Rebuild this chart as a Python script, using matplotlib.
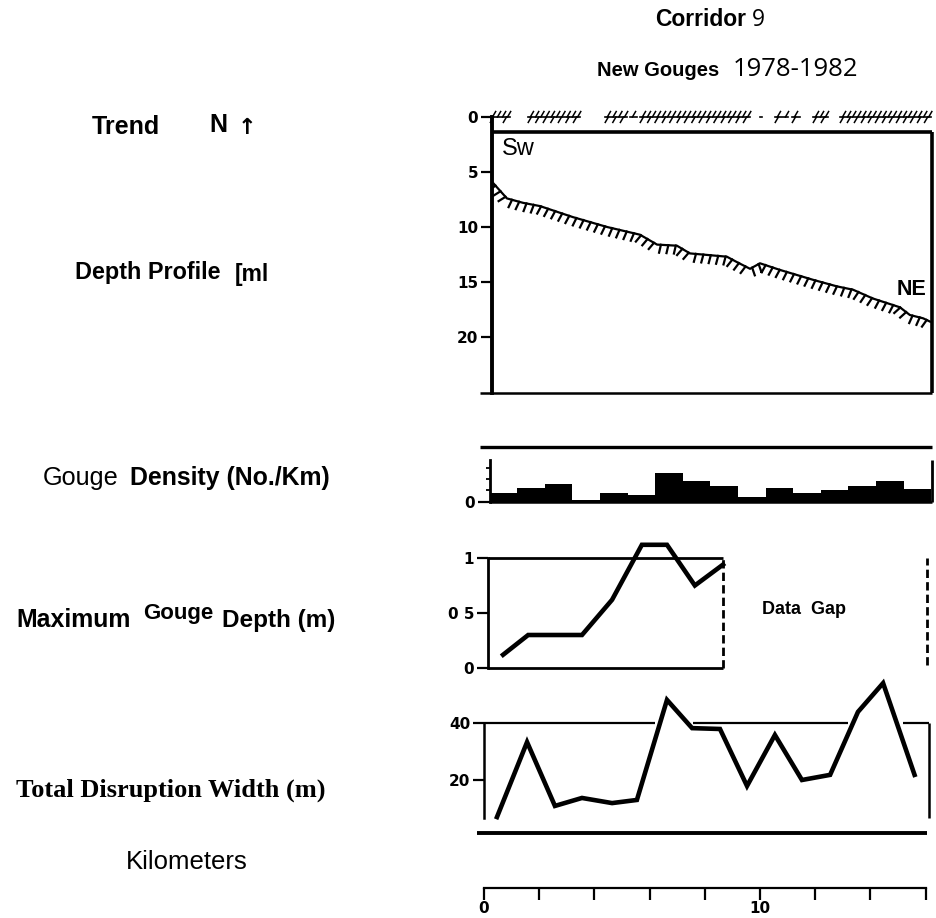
import matplotlib
matplotlib.use('Agg')
from matplotlib import pyplot as plt
from matplotlib import patheffects
from matplotlib.patches import Rectangle

W, H = 936, 918

# Depth profile along the corridor (km, m)
profile_km = [0.33, 0.83, 1.41, 2.03, 3.22, 4.46, 5.65, 6.27, 6.99, 7.46, 8.80, 9.17,
              9.64, 10.0, 10.72, 11.92, 12.79, 13.37, 14.09, 15.07, 15.43, 15.91, 16.16]
profile_m = [6.0, 7.4, 7.8, 8.1, 9.1, 10.0, 10.7, 11.6, 11.7, 12.4, 12.7, 13.2,
             13.8, 13.3, 13.9, 14.8, 15.4, 15.7, 16.5, 17.3, 18.0, 18.3, 18.6]

# stretches of the track where new gouges were mapped (start km, end km)
gouge_tracks = [(0.22, 0.94), (1.59, 3.48), (4.38, 5.18), (5.29, 5.54), (5.65, 9.64),
                (10.0, 10.08), (10.54, 11.01), (11.16, 11.45), (11.92, 12.46), (12.9, 16.2)]

# gouge density per 1 km bin
density_edges = [0.2, 1.2, 2.2, 3.2, 4.2, 5.2, 6.2, 7.2, 8.2, 9.2, 10.2, 11.2, 12.2,
                 13.2, 14.2, 15.2, 16.2]
density = [0.74, 1.2, 1.6, 0.15, 0.74, 0.6, 2.5, 1.8, 1.4, 0.45, 1.25, 0.8, 1.0,
           1.4, 1.85, 1.1]

# maximum gouge depth (m)
maxdepth_km = [0.69, 1.6, 3.55, 4.64, 5.72, 6.63, 7.64, 8.66]
maxdepth_m = [0.12, 0.30, 0.30, 0.62, 1.12, 1.12, 0.75, 0.94]

# total disruption width (m)
width_km = [0.47, 1.56, 2.57, 3.55, 4.64, 5.54, 6.63, 7.54, 8.55, 9.53, 10.54,
            11.52, 12.54, 13.55, 14.46, 15.6]
width_m = [7.0, 33.3, 10.9, 13.7, 11.9, 13.0, 48.1, 38.2, 37.9, 17.9, 35.8,
           20.0, 21.8, 43.9, 54.0, 21.8]

km_ticks = [0, 2, 4, 6, 8, 10, 12, 14, 16]
km_labels = ['0', '', '', '', '', '10', '', '', '']

XLIM = (-0.5, 16.4)
X0 = 484        # pixel of km 0
PX_KM = 27.6    # pixels per km

fig = plt.figure(figsize=(W / 100, H / 100), dpi=100)


def add_panel(top, bottom, p0, v0, k):
    # axes spanning a pixel band; value v0 sits at pixel row p0, k px per unit
    left = X0 + XLIM[0] * PX_KM
    right = X0 + XLIM[1] * PX_KM
    ax = fig.add_axes([left / W, 1 - bottom / H, (right - left) / W, (bottom - top) / H])
    ax.set_xlim(*XLIM)
    ax.set_ylim(v0 - (bottom - p0) / k, v0 + (p0 - top) / k)
    ax.patch.set_visible(False)
    for s in ax.spines.values():
        s.set_visible(False)
    ax.set_xticks([])
    return ax


def left_axis(ax, xpos, lo, hi, ticks, labels, lw=2.2):
    sp = ax.spines['left']
    sp.set_visible(True)
    sp.set_position(('data', xpos))
    sp.set_bounds(lo, hi)
    sp.set_linewidth(lw)
    ax.set_yticks(ticks, labels)
    ax.tick_params(axis='y', direction='out', length=8, width=1.6, pad=2, labelsize=11)
    for t in ax.get_yticklabels():
        t.set_fontweight('bold')


def ftext(x, y, s, size, weight='normal', family=None, **kw):
    fig.text(x / W, 1 - y / H, s, fontsize=size, fontweight=weight,
             family=family or ['Liberation Sans', 'DejaVu Sans'],
             ha=kw.pop('ha', 'left'), va=kw.pop('va', 'center'), **kw)


lk = dict(color='black', solid_capstyle='butt', clip_on=False)

# --- depth profile ---
ax = add_panel(95, 400, 117, 0, -11)
left_axis(ax, 0.29, 0, 25.1, [0, 5, 10, 15, 20], ['0', '5', '10', '15', '20'], lw=2.8)
ax.plot([0.29, 16.23], [1.4, 1.4], lw=2.6, **lk)
ax.plot([16.23, 16.23], [1.4, 25.1], lw=2.6, **lk)
ax.plot([-0.14, 16.23], [25.1, 25.1], lw=1.8, **lk)
prof, = ax.plot(profile_km, profile_m, color='black', lw=1.6,
                path_effects=[patheffects.withTickedStroke(angle=-100, spacing=5.3,
                                                           length=1.1, linewidth=1.6)])
# keep the hachures inside the box
prof.set_clip_path(Rectangle((0.29, -2), 16.2, 30, transform=ax.transData))
for a, b in gouge_tracks:
    ax.plot([a, b], [0, 0], color='black', lw=1.2,
            path_effects=[patheffects.withTickedStroke(angle=60, spacing=3.5, length=1.3,
                                                       linewidth=1.1),
                          patheffects.TickedStroke(angle=-120, spacing=5, length=0.9,
                                                   linewidth=1.1)])
ax.text(0.65, 2.9, 'Sw', fontsize=17, family='Liberation Sans', va='center')
ax.text(14.96, 15.7, 'NE', fontsize=15.5, fontweight='bold', family='Liberation Sans',
        va='center')

# --- gouge density ---
ax = add_panel(440, 510, 501.7, 0, 11.3)
left_axis(ax, 0.22, 0, 3.69, [0], ['0'], lw=2)
ax.set_yticks([1, 2, 3], minor=True)
ax.tick_params(axis='y', which='major', length=9)
ax.tick_params(axis='y', which='minor', direction='out', length=3, width=1.3)
ax.stairs(density, density_edges, fill=True, color='black', baseline=0)
ax.plot([0.22, 16.23], [0, 0], lw=1.8, **lk)
ax.plot([16.23, 16.23], [0, 3.69], lw=2, **lk)
ax.plot([-0.14, 16.23], [4.81, 4.81], lw=2.4, **lk)

# --- maximum gouge depth ---
ax = add_panel(530, 680, 668, 0, 110)
left_axis(ax, 0.145, 0, 1, [0, 0.5, 1], ['0', '0 5', '1'], lw=2)
ax.plot([0.145, 8.66], [1, 1], lw=2, **lk)
ax.plot([0.145, 8.66], [0, 0], lw=2, **lk)
ax.plot([8.66, 8.66], [0, 1], lw=2, ls=(0, (3, 1.5)), color='black', clip_on=False)
ax.plot([16.05, 16.05], [0.03, 1], lw=2, ls=(0, (3, 1.5)), color='black', clip_on=False)
ax.plot(maxdepth_km, maxdepth_m, color='black', lw=3.3, solid_joinstyle='miter')
ax.text(10.07, 0.53, 'Data  Gap', fontsize=13, fontweight='bold',
        family='Liberation Sans', va='center')

# --- total disruption width ---
ax = add_panel(675, 845, 837, 0, 2.85)
left_axis(ax, 0.0, 6.7, 40, [20, 40], ['20', '40'], lw=1.8)
for a, b in [(0.0, 6.2), (7.57, 13.19), (15.18, 16.12)]:
    ax.plot([a, b], [40, 40], lw=1.6, **lk)
ax.plot([16.12, 16.12], [6.7, 40], lw=1.8, **lk)
ax.plot([-0.25, 16.05], [1.4, 1.4], lw=2.8, **lk)
ax.plot(width_km, width_m, color='black', lw=3.3, solid_joinstyle='miter')

# --- kilometre scale ---
ax = add_panel(860, 918, 888, 0, 1)
sp = ax.spines['bottom']
sp.set_visible(True)
sp.set_position(('data', 0))
sp.set_bounds(0, 16)
sp.set_linewidth(1.6)
ax.set_yticks([])
ax.set_xticks(km_ticks, km_labels)
ax.set_xticks([4, 10], minor=True)
ax.tick_params(axis='x', which='major', direction='out', length=8.5, width=1.6, pad=1,
               labelsize=11)
ax.tick_params(axis='x', which='minor', direction='in', length=6, width=1.6)
for t in ax.get_xticklabels():
    t.set_fontweight('bold')

# --- titles and row labels ---
ftext(655, 20, 'Corridor', 16.5, 'bold')
ftext(752, 20, '9', 16.5, family=['Open Sans', 'DejaVu Sans'])
ftext(597, 70, 'New Gouges', 14.5, 'bold')
ftext(733, 70, '1978-1982', 18.5, family=['Open Sans', 'DejaVu Sans'])

ftext(92, 127, 'Trend', 18, 'bold')
ftext(209, 125, 'N', 18, 'bold')
ftext(247, 128, '\u2191', 16, 'bold', family=['DejaVu Sans'], ha='center')
ftext(75, 273, 'Depth Profile', 16.8, 'bold')
ftext(235, 275, '[ml', 16.5, 'bold')
ftext(43, 478, 'Gouge', 18.2)
ftext(130, 478, 'Density (No./Km)', 17.9, 'bold')
ftext(16, 620, 'Maximum', 17.9, 'bold')
ftext(143, 614, 'Gouge', 16, 'bold')
ftext(222, 620, 'Depth (m)', 17.5, 'bold')
ftext(16, 790, 'Total Disruption Width (m)', 19, 'bold',
      family=['Liberation Serif', 'DejaVu Serif'])
ftext(126, 862, 'Kilometers', 18.5, family=['Liberation Sans Narrow', 'Liberation Sans'])

fig.savefig('out.png', dpi=100)
